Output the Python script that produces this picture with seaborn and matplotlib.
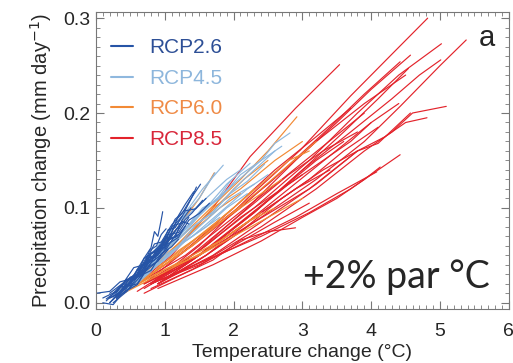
import pandas as pd
import matplotlib.pyplot as plt
import seaborn as sns
from matplotlib.lines import Line2D
from matplotlib.ticker import MultipleLocator

# one list per model run: temperature change (degC) and precipitation change (mm/day)
rcp85_t = [
    [0.8, 1.5, 2.2, 2.97, 3.7, 4.3, 4.82],
    [0.9, 1.6, 2.4, 3.2, 3.9, 4.42, 5.0, 5.38],
    [0.8, 1.5, 2.3, 3.1, 3.8, 4.4, 5.02],
    [0.7, 1.5, 2.3, 3.0, 3.7, 4.3, 4.7, 5.01],
    [0.6, 1.1, 1.7, 2.24, 2.9, 3.54],
    [0.8, 1.5, 2.2, 2.9, 3.5, 4.0, 4.57],
    [0.7, 1.4, 2.1, 2.8, 3.4, 3.9, 4.42],
    [0.9, 1.6, 2.3, 3.0, 3.6, 4.1, 4.54],
    [0.8, 1.6, 2.4, 3.2, 3.9, 4.3, 4.6, 5.09],
    [0.7, 1.5, 2.3, 3.1, 3.8, 4.2, 4.5, 4.81],
    [0.9, 1.7, 2.5, 3.2, 3.8, 4.1, 4.57],
    [0.8, 1.6, 2.4, 3.1, 3.7, 4.1, 4.42],
    [0.9, 1.7, 2.4, 3.0, 3.5, 3.9, 4.13],
    [0.7, 1.2, 1.7, 2.1, 2.5, 2.9],
    [0.8, 1.5, 2.2, 2.9, 3.5, 4.08],
    [0.6, 1.3, 2.0, 2.7, 3.3, 3.9],
    [0.7, 1.4, 2.1, 2.7, 3.2, 3.6],
    [0.8, 1.5, 2.2, 2.8, 3.3, 3.7, 4.0],
    [0.9, 1.6, 2.3, 2.9, 3.4],
    [0.7, 1.3, 1.9, 2.5, 3.1, 3.6, 4.1],
    [0.6, 1.2, 1.8, 2.5, 3.2, 3.9, 4.5],
    [0.8, 1.4, 2.0, 2.6, 3.1],
    [0.7, 1.3, 2.0, 2.6, 3.2, 3.7],
    [0.9, 1.5, 2.1, 2.7, 3.3, 3.8],
    [1.0, 1.6, 2.2, 2.8, 3.4, 4.0, 4.4],
    [0.6, 1.1, 1.6, 2.1, 2.6, 3.0],
    [0.8, 1.3, 1.8, 2.3, 2.8, 3.3, 3.8],
]
rcp85_p = [
    [0.02, 0.06, 0.11, 0.161, 0.218, 0.262, 0.300],
    [0.02, 0.05, 0.09, 0.13, 0.17, 0.207, 0.25, 0.277],
    [0.025, 0.055, 0.10, 0.15, 0.20, 0.24, 0.273],
    [0.02, 0.05, 0.095, 0.14, 0.18, 0.215, 0.24, 0.256],
    [0.02, 0.05, 0.10, 0.154, 0.205, 0.251],
    [0.02, 0.055, 0.10, 0.15, 0.19, 0.225, 0.261],
    [0.025, 0.06, 0.10, 0.145, 0.185, 0.22, 0.254],
    [0.02, 0.055, 0.095, 0.14, 0.18, 0.215, 0.247],
    [0.02, 0.045, 0.08, 0.12, 0.16, 0.18, 0.20, 0.207],
    [0.02, 0.05, 0.085, 0.12, 0.16, 0.175, 0.19, 0.195],
    [0.02, 0.05, 0.09, 0.125, 0.16, 0.168, 0.20],
    [0.02, 0.045, 0.07, 0.095, 0.12, 0.14, 0.156],
    [0.015, 0.04, 0.065, 0.09, 0.11, 0.13, 0.143],
    [0.01, 0.028, 0.045, 0.066, 0.075, 0.079],
    [0.02, 0.04, 0.065, 0.09, 0.115, 0.138],
    [0.02, 0.05, 0.09, 0.13, 0.165, 0.20],
    [0.015, 0.045, 0.085, 0.12, 0.15, 0.17],
    [0.02, 0.05, 0.09, 0.125, 0.15, 0.17, 0.19],
    [0.02, 0.05, 0.09, 0.12, 0.14],
    [0.02, 0.04, 0.07, 0.10, 0.13, 0.16, 0.185],
    [0.02, 0.05, 0.085, 0.125, 0.17, 0.21, 0.24],
    [0.015, 0.035, 0.06, 0.085, 0.105],
    [0.02, 0.055, 0.10, 0.14, 0.175, 0.205],
    [0.02, 0.045, 0.075, 0.11, 0.14, 0.16],
    [0.025, 0.055, 0.085, 0.12, 0.155, 0.19, 0.21],
    [0.012, 0.035, 0.06, 0.09, 0.115, 0.135],
    [0.02, 0.045, 0.075, 0.105, 0.135, 0.16, 0.18],
]

rcp60_t = [
    [0.3, 0.7, 1.1, 1.6, 2.1, 2.5, 2.92],
    [0.4, 0.9, 1.4, 1.9, 2.4, 2.8, 3.2],
    [0.5, 1.0, 1.5, 2.0, 2.5, 3.0],
    [0.4, 0.8, 1.2, 1.6, 2.0, 2.4],
    [0.3, 0.8, 1.3, 1.8, 2.3, 2.7],
    [0.5, 0.9, 1.3, 1.7, 2.1, 2.6, 3.0],
    [0.4, 0.8, 1.2, 1.6, 2.0, 2.3],
    [0.6, 1.0, 1.4, 1.8, 2.2, 2.6],
    [0.3, 0.7, 1.0, 1.4, 1.8, 2.1],
    [0.5, 1.0, 1.5, 2.0, 2.4, 2.8, 3.1],
    [0.3, 0.6, 0.9, 1.2, 1.5, 1.72],
    [0.4, 0.75, 1.1, 1.45, 1.8, 2.15, 2.5],
    [0.35, 0.7, 1.05, 1.4, 1.75, 2.0],
]
rcp60_p = [
    [0.01, 0.03, 0.06, 0.095, 0.13, 0.16, 0.196],
    [0.01, 0.035, 0.06, 0.09, 0.12, 0.145, 0.17],
    [0.015, 0.035, 0.05, 0.07, 0.09, 0.11],
    [0.01, 0.025, 0.04, 0.055, 0.075, 0.095],
    [0.005, 0.03, 0.055, 0.085, 0.11, 0.13],
    [0.02, 0.04, 0.07, 0.10, 0.12, 0.15, 0.17],
    [0.01, 0.03, 0.055, 0.075, 0.10, 0.12],
    [0.02, 0.035, 0.05, 0.065, 0.085, 0.10],
    [0.005, 0.025, 0.05, 0.075, 0.10, 0.115],
    [0.015, 0.04, 0.07, 0.10, 0.125, 0.15, 0.16],
    [0.01, 0.03, 0.055, 0.08, 0.11, 0.137],
    [0.01, 0.03, 0.055, 0.08, 0.105, 0.13, 0.15],
    [0.01, 0.03, 0.045, 0.065, 0.085, 0.10],
]

rcp45_t = [
    [0.3, 0.6, 0.9, 1.2, 1.5, 1.8, 2.1, 2.4, 2.6, 2.82],
    [0.4, 0.7, 1.0, 1.3, 1.6, 1.9, 2.24],
    [0.3, 0.6, 0.9, 1.2, 1.5, 1.73],
    [0.4, 0.7, 1.0, 1.3, 1.6, 1.9, 2.2],
    [0.5, 0.8, 1.1, 1.4, 1.7, 2.0, 2.3, 2.6],
    [0.3, 0.6, 0.9, 1.2, 1.5, 1.8],
    [0.4, 0.7, 1.0, 1.3, 1.6, 1.9, 2.1],
    [0.3, 0.6, 1.0, 1.4, 1.8, 2.2, 2.5],
    [0.5, 0.8, 1.1, 1.4, 1.7, 2.0],
    [0.4, 0.8, 1.2, 1.6, 2.0, 2.4, 2.7],
    [0.35, 0.65, 0.95, 1.25, 1.55, 1.85],
    [0.45, 0.75, 1.05, 1.35, 1.65, 1.95, 2.3],
    [0.3, 0.55, 0.8, 1.05, 1.3, 1.55, 1.75, 1.95],
    [0.45, 0.7, 0.95, 1.2, 1.45, 1.7, 1.95, 2.2, 2.45],
]
rcp45_p = [
    [0.01, 0.025, 0.05, 0.07, 0.095, 0.11, 0.135, 0.15, 0.168, 0.179],
    [0.01, 0.03, 0.055, 0.075, 0.10, 0.125, 0.147],
    [0.005, 0.03, 0.06, 0.085, 0.11, 0.137],
    [0.015, 0.03, 0.045, 0.065, 0.08, 0.10, 0.115],
    [0.015, 0.035, 0.06, 0.08, 0.095, 0.12, 0.14, 0.16],
    [0.01, 0.02, 0.04, 0.06, 0.075, 0.09],
    [0.01, 0.035, 0.06, 0.09, 0.11, 0.13, 0.14],
    [0.01, 0.03, 0.05, 0.07, 0.095, 0.12, 0.135],
    [0.02, 0.04, 0.065, 0.085, 0.105, 0.125],
    [0.01, 0.04, 0.07, 0.10, 0.125, 0.15, 0.165],
    [0.01, 0.035, 0.06, 0.09, 0.12, 0.145],
    [0.015, 0.03, 0.05, 0.07, 0.09, 0.11, 0.125],
    [0.01, 0.022, 0.04, 0.062, 0.078, 0.1, 0.108, 0.128],
    [0.012, 0.028, 0.045, 0.06, 0.082, 0.096, 0.115, 0.128, 0.146],
]

rcp26_t = [
    [0.2, 0.35, 0.45, 0.6, 0.7, 0.8, 0.85, 0.9, 0.95, 0.97],
    [0.1, 0.3, 0.5, 0.65, 0.8, 1.0, 1.15, 1.3, 1.4, 1.46],
    [0.2, 0.4, 0.6, 0.8, 1.0, 1.2, 1.3, 1.4, 1.55],
    [0.0, 0.2, 0.35, 0.5, 0.7, 0.85, 1.0, 1.1],
    [0.3, 0.5, 0.6, 0.75, 0.9, 1.05, 1.2, 1.35],
    [0.2, 0.4, 0.55, 0.7, 0.85, 0.95, 1.1, 1.25, 1.4, 1.52],
    [0.25, 0.45, 0.6, 0.8, 0.95, 1.1, 1.2],
    [0.15, 0.35, 0.5, 0.7, 0.85, 1.0, 1.15, 1.25, 1.38],
    [0.3, 0.45, 0.65, 0.8, 1.0, 1.15, 1.3],
    [0.2, 0.4, 0.55, 0.7, 0.8, 0.9, 1.0, 1.1, 1.2, 1.3, 1.42],
    [0.35, 0.5, 0.65, 0.8, 0.9, 1.0, 1.1, 1.2],
    [0.1, 0.25, 0.4, 0.6, 0.75, 0.9, 1.05],
    [0.4, 0.55, 0.7, 0.85, 0.95, 1.05, 1.15, 1.3, 1.45, 1.6],
    [0.2, 0.35, 0.5, 0.6, 0.7, 0.8, 0.9],
    [0.25, 0.4, 0.55, 0.7, 0.85, 1.0, 1.1, 1.25],
    [0.3, 0.5, 0.7, 0.9, 1.05, 1.2, 1.35, 1.5, 1.65],
    [0.15, 0.3, 0.45, 0.55, 0.7, 0.8, 0.95, 1.05, 1.2],
    [0.35, 0.5, 0.6, 0.75, 0.85, 1.0, 1.1, 1.25, 1.35],
    [0.25, 0.4, 0.5, 0.6, 0.7, 0.78, 0.88, 0.95, 1.02],
    [0.3, 0.42, 0.55, 0.68, 0.8, 0.92, 1.05, 1.18, 1.3],
]
rcp26_p = [
    [0.0, 0.01, 0.022, 0.03, 0.047, 0.058, 0.075, 0.07, 0.088, 0.096],
    [0.005, 0.012, 0.027, 0.03, 0.052, 0.064, 0.088, 0.098, 0.112, 0.122],
    [0.0, 0.016, 0.02, 0.042, 0.054, 0.077, 0.088, 0.095, 0.108],
    [0.01, 0.012, 0.022, 0.025, 0.042, 0.048, 0.058, 0.07],
    [0.005, 0.022, 0.029, 0.047, 0.05, 0.072, 0.074, 0.09],
    [0.01, 0.021, 0.037, 0.04, 0.062, 0.064, 0.082, 0.094, 0.112, 0.125],
    [0.0, 0.012, 0.027, 0.034, 0.052, 0.059, 0.067],
    [0.002, 0.016, 0.02, 0.042, 0.045, 0.067, 0.069, 0.087, 0.10],
    [0.008, 0.019, 0.031, 0.052, 0.059, 0.082, 0.085],
    [0.005, 0.013, 0.027, 0.034, 0.052, 0.054, 0.062, 0.074, 0.092, 0.104, 0.117],
    [0.01, 0.022, 0.029, 0.042, 0.057, 0.058, 0.072, 0.08],
    [0.0, -0.002, 0.011, 0.019, 0.037, 0.044, 0.056],
    [0.01, 0.027, 0.034, 0.052, 0.059, 0.077, 0.079, 0.097, 0.099, 0.11],
    [0.005, 0.01, 0.022, 0.029, 0.037, 0.044, 0.052],
    [0.01, 0.021, 0.029, 0.047, 0.054, 0.067, 0.079, 0.091],
    [0.005, 0.016, 0.032, 0.044, 0.062, 0.069, 0.087, 0.094, 0.105],
    [0.004, 0.012, 0.025, 0.024, 0.04, 0.046, 0.058, 0.066, 0.072],
    [0.012, 0.026, 0.03, 0.05, 0.048, 0.068, 0.07, 0.086, 0.083],
    [0.006, 0.02, 0.018, 0.035, 0.04, 0.055, 0.06, 0.072, 0.078],
    [0.004, 0.015, 0.028, 0.032, 0.048, 0.052, 0.066, 0.07, 0.081],
]

scenarios = ['RCP2.6', 'RCP4.5', 'RCP6.0', 'RCP8.5']
colors = {'RCP2.6': '#2654a6', 'RCP4.5': '#8fb8de',
          'RCP6.0': '#f28a35', 'RCP8.5': '#e3232b'}
text_colors = {'RCP2.6': '#2d4f96', 'RCP4.5': '#8db6dc',
               'RCP6.0': '#ef8a45', 'RCP8.5': '#d8263a'}
runs = {'RCP2.6': (rcp26_t, rcp26_p), 'RCP4.5': (rcp45_t, rcp45_p),
        'RCP6.0': (rcp60_t, rcp60_p), 'RCP8.5': (rcp85_t, rcp85_p)}


def to_frame(name):
    temps, precs = runs[name]
    rows = []
    for i, (t, p) in enumerate(zip(temps, precs)):
        for k in range(len(t)):
            rows.append({'run': i, 'step': k, 'temp': t[k], 'precip': p[k]})
    return pd.DataFrame(rows)


sns.set_style('ticks')
plt.rcParams['font.family'] = ['Liberation Sans', 'DejaVu Sans']

fig = plt.figure(figsize=(5.13, 3.63), dpi=100)
ax = fig.add_axes([0.187, 0.149, 0.805, 0.818])

# draw high scenarios first so RCP2.6 sits on top
for name in ['RCP8.5', 'RCP6.0', 'RCP4.5', 'RCP2.6']:
    df = to_frame(name)
    sns.lineplot(data=df, x='temp', y='precip', units='run', estimator=None,
                 sort=False, color=colors[name], lw=0.85, legend=False, ax=ax)

ax.set_xlim(0, 6)
ax.set_ylim(-0.0065, 0.3065)
ax.set_xticks([0, 1, 2, 3, 4, 5, 6])
ax.set_yticks([0.0, 0.1, 0.2, 0.3])
ax.set_yticklabels(['0.0', '0.1', '0.2', '0.3'])
ax.xaxis.set_minor_locator(MultipleLocator(0.1))
ax.yaxis.set_minor_locator(MultipleLocator(0.01))
ax.tick_params(which='both', direction='in', top=True, right=True,
               color='#777777', labelsize=14)
ax.tick_params(axis='x', pad=10)
ax.tick_params(axis='y', pad=4)
ax.tick_params(which='major', length=6, width=0.8)
ax.tick_params(which='minor', length=3, width=0.6)
for sp in ax.spines.values():
    sp.set_color('#777777')
    sp.set_linewidth(0.8)

ax.set_xlabel('Temperature change (°C)', fontsize=14, labelpad=3)
ax.set_ylabel('Precipitation change (mm day$^{-1}$)', fontsize=14.5, labelpad=7)

handles = [Line2D([0], [0], color=colors[s], lw=1.5) for s in scenarios]
leg = ax.legend(handles, scenarios, loc='upper left', frameon=False,
                fontsize=15, handlelength=1.1, handletextpad=0.75,
                labelspacing=0.55, borderaxespad=0.3,
                bbox_to_anchor=(0.0, 0.96))
for txt, s in zip(leg.get_texts(), scenarios):
    txt.set_color(text_colors[s])

ax.text(0.947, 0.912, 'a', transform=ax.transAxes, fontsize=21,
        ha='center', va='center')
ax.text(0.954, 0.072, '+2% par °C', transform=ax.transAxes, fontsize=27,
        ha='right', va='baseline', family=['Lato', 'DejaVu Sans'])

plt.savefig('out.png', dpi=100)
plt.close()
